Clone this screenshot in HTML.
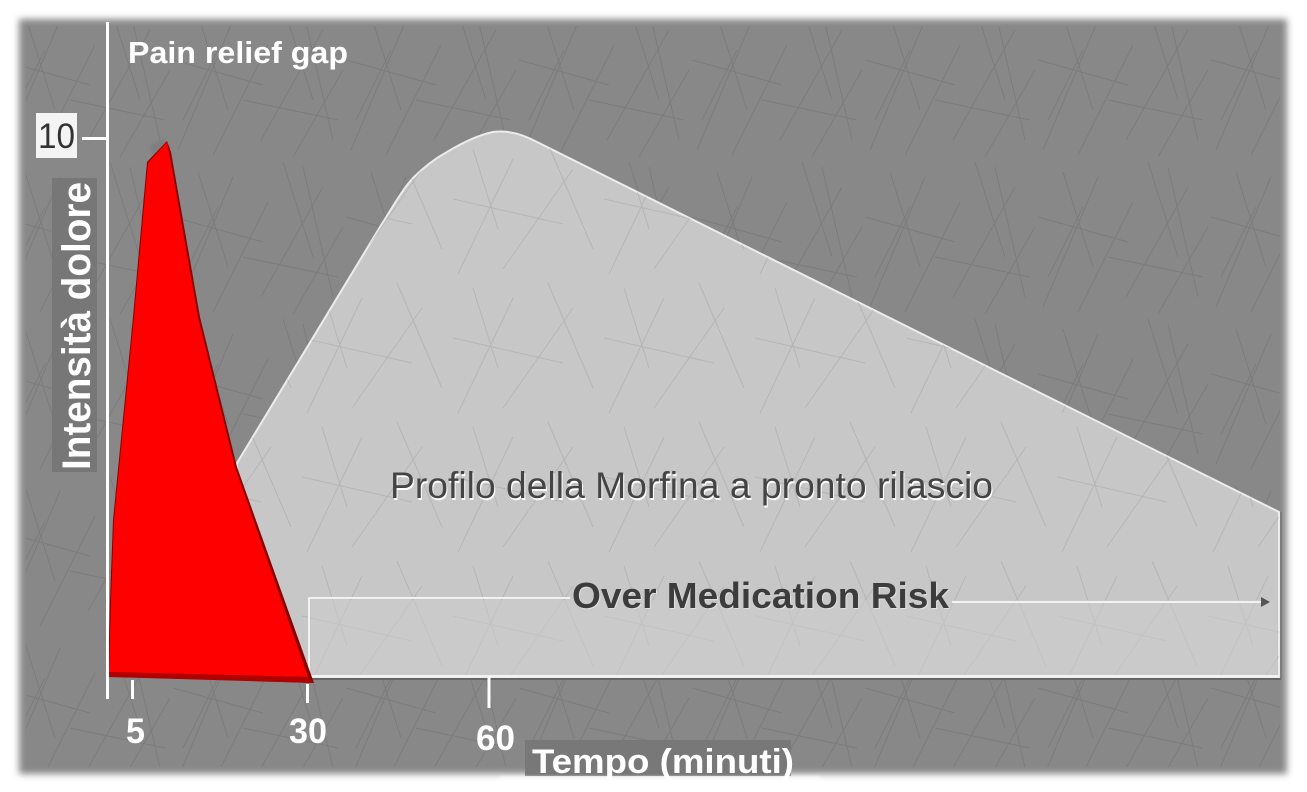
<!DOCTYPE html>
<html>
<head>
<meta charset="utf-8">
<style>
html,body{margin:0;padding:0;background:#fff;}
svg{display:block;}
</style>
</head>
<body>
<svg width="1307" height="792" viewBox="0 0 1307 792" xmlns="http://www.w3.org/2000/svg">
<defs>
  <filter id="edge" x="-5%" y="-5%" width="110%" height="110%">
    <feGaussianBlur stdDeviation="3.5"/>
  </filter>
  <filter id="soft" x="-10%" y="-10%" width="120%" height="120%">
    <feGaussianBlur stdDeviation="1.2"/>
  </filter>
  <pattern id="scr" width="173" height="157" patternUnits="userSpaceOnUse">
    <g stroke="#5a5a5a" stroke-width="1" fill="none" opacity="0.28">
      <path d="M5 150 L60 20"/>
      <path d="M40 155 L95 45"/>
      <path d="M88 140 L150 30"/>
      <path d="M120 157 L170 70"/>
      <path d="M0 60 L90 85"/>
      <path d="M25 15 L55 110"/>
      <path d="M110 5 L140 100"/>
      <path d="M70 100 L165 120"/>
      <path d="M10 120 L45 50"/>
      <path d="M130 10 L160 140"/>
    </g>
  </pattern>
  <pattern id="scr2" width="151" height="139" patternUnits="userSpaceOnUse">
    <g stroke="#8a8a8a" stroke-width="1" fill="none" opacity="0.3">
      <path d="M5 135 L60 20"/>
      <path d="M50 130 L120 30"/>
      <path d="M0 60 L110 85"/>
      <path d="M95 5 L140 110"/>
      <path d="M20 10 L45 90"/>
    </g>
  </pattern>
</defs>

<!-- page background -->
<rect width="1307" height="792" fill="#ffffff"/>

<!-- gray picture with blurred edges -->
<rect x="19" y="19" width="1268" height="755" fill="#888888" filter="url(#edge)"/>
<rect x="26" y="26" width="1254" height="741" fill="url(#scr)"/>

<!-- light morphine profile -->
<path d="M237 463 L380 227 C392 208 402 190 413 178 C425 166 436 158 447 152 C462 143 478 135 493 132 C507 130 522 134 537 142 L1279 512 L1279 677 L237 677 Z"
      fill="#c7c7c7" stroke="#ececec" stroke-width="2"/>
<path d="M237 463 L380 227 C392 208 402 190 413 178 C425 166 436 158 447 152 C462 143 478 135 493 132 C507 130 522 134 537 142 L1279 512 L1279 677 L237 677 Z"
      fill="url(#scr2)"/>
<line x1="237" y1="679" x2="1281" y2="679" stroke="#666" stroke-width="2"/>
<line x1="1281" y1="512" x2="1281" y2="679" stroke="#777" stroke-width="1.5"/>

<!-- over medication box -->
<rect x="311" y="600" width="966" height="75" fill="#cbcbcb" opacity="0.6"/>
<path d="M309 677 L309 598 L570 598" fill="none" stroke="#f2f2f2" stroke-width="2"/>
<line x1="952" y1="602" x2="1262" y2="602" stroke="#f2f2f2" stroke-width="2"/>
<polygon points="1261,597 1270,602 1261,607" fill="#555"/>
<line x1="309" y1="676" x2="1279" y2="676" stroke="#f2f2f2" stroke-width="2"/>

<!-- red triangle -->
<path d="M150 146 L164 138 L170 148 L152 156 Z" fill="#777" opacity="0.5" filter="url(#soft)"/>
<path d="M108 676 L110 600 L113 520 L133 317 L147 162 L167 141 L171 152 L200 317 L237 467 L314 683 Z"
      fill="#8a0000"/>
<path d="M109 672 L111 600 L114 520 L134 317 L148 163 L167 142 L169 152 L198 317 L235 467 L308 677 Z"
      fill="#ff0000"/>
<path d="M108 672 L308 677 L314 683 L108 677 Z" fill="#b00000"/>

<!-- y axis -->
<line x1="107.5" y1="22" x2="107.5" y2="699" stroke="#ffffff" stroke-width="3"/>
<line x1="82" y1="138.5" x2="107" y2="138.5" stroke="#ffffff" stroke-width="3"/>

<!-- x ticks -->
<line x1="132.5" y1="680" x2="132.5" y2="699" stroke="#ffffff" stroke-width="3"/>
<line x1="307.5" y1="684" x2="307.5" y2="703" stroke="#ffffff" stroke-width="3"/>
<line x1="489" y1="677" x2="489" y2="708" stroke="#ffffff" stroke-width="3"/>

<!-- 10 label -->
<rect x="36" y="113" width="41" height="45" fill="#f4f4f4"/>
<text x="56.5" y="148" font-family="Liberation Sans, Arial, sans-serif" font-size="35" fill="#333" text-anchor="middle" textLength="37" lengthAdjust="spacingAndGlyphs">10</text>

<!-- y label -->
<rect x="52" y="178" width="45" height="294" fill="#777777"/>
<text transform="translate(90,470) rotate(-90)" x="0" y="0" font-family="Liberation Sans, DejaVu Sans, sans-serif" font-weight="bold" font-size="40" fill="#ffffff" textLength="288" lengthAdjust="spacingAndGlyphs">Intensità dolore</text>

<!-- Pain relief gap -->
<text x="128" y="63" font-family="Liberation Sans, DejaVu Sans, sans-serif" font-weight="bold" font-size="31" fill="#ffffff" textLength="220" lengthAdjust="spacingAndGlyphs">Pain relief gap</text>

<!-- x tick labels -->
<g font-family="Liberation Sans, Arial, sans-serif" font-weight="bold" font-size="35" fill="#ffffff">
  <text x="126" y="743" textLength="19" lengthAdjust="spacingAndGlyphs">5</text>
  <text x="289" y="743" textLength="38" lengthAdjust="spacingAndGlyphs">30</text>
  <text x="476" y="750" textLength="39" lengthAdjust="spacingAndGlyphs">60</text>
</g>

<!-- Tempo label -->
<rect x="525" y="740" width="266" height="36" fill="#787878"/>
<text x="532" y="773" font-family="Liberation Sans, DejaVu Sans, sans-serif" font-weight="bold" font-size="34" fill="#ffffff" textLength="262" lengthAdjust="spacingAndGlyphs">Tempo (minuti)</text>
<rect x="500" y="776" width="320" height="16" fill="#ffffff" opacity="0.55" filter="url(#soft)"/>

<!-- Profilo text -->
<text x="391" y="500" font-family="Liberation Sans, Arial, sans-serif" font-size="37" fill="#ffffff" textLength="603" lengthAdjust="spacingAndGlyphs">Profilo della Morfina a pronto rilascio</text>
<text x="390" y="498" font-family="Liberation Sans, Arial, sans-serif" font-size="37" fill="#444444" textLength="603" lengthAdjust="spacingAndGlyphs">Profilo della Morfina a pronto rilascio</text>

<!-- Over Medication Risk -->
<text x="573" y="609" font-family="Liberation Sans, Arial, sans-serif" font-weight="bold" font-size="36" fill="#e0e0e0" textLength="377" lengthAdjust="spacingAndGlyphs">Over Medication Risk</text>
<text x="572" y="608" font-family="Liberation Sans, Arial, sans-serif" font-weight="bold" font-size="36" fill="#3c3c3c" textLength="377" lengthAdjust="spacingAndGlyphs">Over Medication Risk</text>
</svg>
</body>
</html>
